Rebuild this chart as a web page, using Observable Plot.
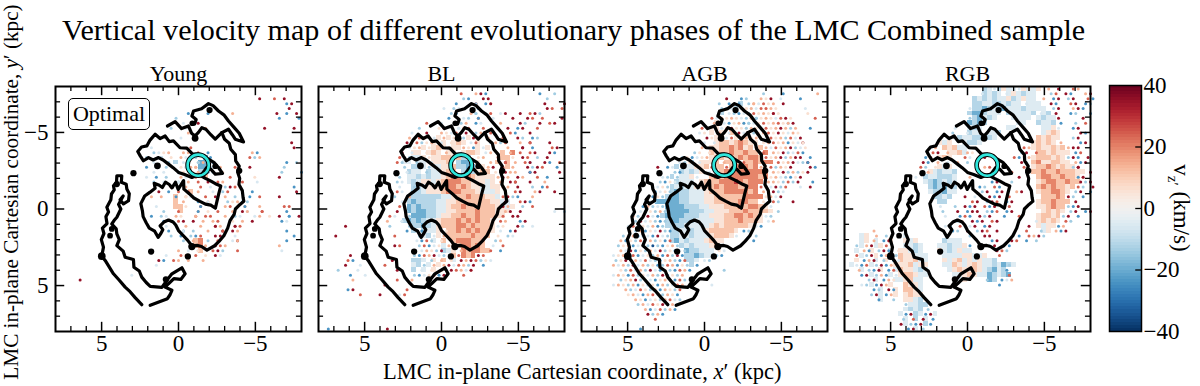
<!DOCTYPE html>
<html><head><meta charset="utf-8">
<script src="https://cdn.jsdelivr.net/npm/d3@7"></script>
<script src="https://cdn.jsdelivr.net/npm/@observablehq/plot@0.6"></script>
<style>
html,body{margin:0;padding:0;background:#fff;overflow:hidden}
#w{position:relative;width:1200px;height:386px;font-family:"Liberation Serif",serif;color:#000}
#w svg{position:absolute;top:0;background:transparent}
.t{position:absolute;white-space:nowrap;line-height:1}
</style></head><body>
<div id="w">
<div class="t" style="left:62px;top:15px;font-size:30.1px">Vertical velocity map of different evolutionary phases of the LMC Combined sample</div>
<div class="t" style="left:383px;top:361px;font-size:22.5px">LMC in-plane Cartesian coordinate, <i>x</i>′ (kpc)</div>
<div class="t" style="left:12px;top:192px;font-size:21.2px;transform:translate(-50%,-50%) rotate(-90deg)">LMC in-plane Cartesian coordinate, <i>y</i>′ (kpc)</div>
<div class="t" style="left:68px;top:98px;width:80px;height:30px;border:1.5px solid #000;border-radius:5px;background:#fff;font-size:22px;line-height:30px;text-align:center;z-index:3">Optimal</div>
<div class="t" style="left:1179px;top:208px;font-size:23px;transform:translate(-50%,-50%) rotate(90deg);z-index:3">v<sub style="font-size:15px">z′</sub> (km/s)</div>
</div>
<script>
const panels = ["Young","BL","AGB","RGB"];
const majorTicks = [-5,0,5];
const minorTicks = [-7,-6,-4,-3,-2,-1,1,2,3,4,6,7];
const barTicks = [-40,-20,0,20,40];
const levels = {a:-35,b:-24,c:-14,d:-6,e:6,f:14,g:24,h:35};
const denseShade = 0.82;

const youngRows = ["","",
"41:h..g.h","46:bh","47:h","26:b...b 35:f 44:h.b 48:h","24:c 45:b 49:b","25:d 28:h","23:c..d 30:f 42:h 48:h","26:f","25:d","47:h",
"19:d 27:g 48:h","19:cd 21:ef..f 26:f.g 30:b 39:f 40:b","18:c..b 21:d.e.fd...f 27:gc 30:Bb 39:g.f 40:c","19:d 22:c.Cd..ef.g 28:cB 30:Bb 46:b.c",
"18:b 20:c 22:c..ec.f 26:d 27:ff 29:BBc 33:f 36:g 39:h 46:c","19:d 21:d..b 25:e..f 29:Cbc 33:e 45:c 49:b","18:d 20:b 22:c...d 25:f..g 29:eF 35:g 40:e 45:h",
"19:c 21:d..c 24:d.f 28:g.h..f 32:g 37:g 40:d","23:h 26:f..g.d..c.g 35:h 37:f 48:b","20:h 22:b 24:g 26:gFf..d.c...d 34:g 37:c.b 48:h",
"19:f.f..b.f 24:F.e 27:d..g.h 34:f.c..b.g 45:h","24:Ff..b.f 30:d...c.f 35:e 37:bc","20:d 24:FFe..g 29:b 32:h 34:fg..f 38:b 41:f 46:gg",
"21:c 24:gF..f 28:b 30:e.g..f.hd..g 38:f 41:g 46:b","19:b 21:cd 24:fe..g 28:f.gg..f.cd...f.e 40:d 45:h.c 47:b.h","21:b..d 24:gh 27:h.f 31:fg..e.f.h 45:b 46:d",
"22:d 26:f 29:f..g 32:hf..g 36:hg","22:b..b 25:d 27:c 30:f..h 33:g.hf 46:b","23:c 25:b 27:cb 29:g..h 33:h 36:d 48:b","25:c 27:fFG 30:c.g..dh 36:f 46:b",
"28:FG 30:f.hg 34:f 45:f","24:f 26:d.f 28:eF 31:gh 33:c..g 45:d","22:d 25:gf 28:g 30:e.hd","20:h 21:b..f 23:g 26:f 29:f","20:d","","15:d","4:h"];

const blRows = ["",
"28:g..fh 33:b 44:b 47:c","29:cb..h 34:h 46:c","27:b..dh 31:c..f 33:bh 45:h 49:h","25:d.cd...b 31:c 46:hg 49:g","26:cb...c.d 30:fc..g.dh 40:h.gh 44:c",
"26:b..dc.g 32:b 35:d 39:h..hg 45:g 49:h","21:g 24:d..bc 29:f.bd...f 40:hc..h.g 47:h","20:c 24:eh..d 28:dfg 33:g..e 38:h.bh 44:g","18:d 21:h 24:fedgeh.cf.g 38:gb..h",
"18:f 20:gh 23:dEfEeEcEhd.f 37:g..hc.b 44:c","17:h.gc 21:efEdEeEFEdgE.cf 36:cg..f.h 42:g 46:h","18:defEeEFEfEEfebEdE 38:f..h 41:h.b 47:gh",
"16:h 18:dEEeEFEfEEdEFFE 33:df 37:FfGg..h 42:g 46:hb","16:g 18:cDDEeEEFFEFE 29:CC 32:ef 36:gFFe.hg 44:c.h","15:gcDDcDDdEE 25:EF 28:CBB 32:E.f..h 36:FgFf..c 41:gh..hb 48:g",
"17:c.CCDcDDE 26:EF 28:CCBB 32:EEfh 37:gFf..hc 44:hg..b","15:h 17:dCDDcCDD 25:EFF 29:CCC 32:EFFe.h 38:ff..h 42:bh 48:h","16:c 18:DDCDCDDE 26:FGG 29:FGFE 33:EEEfh 38:f.h 41:f..g 46:b",
"15:cd 18:DCDEEDE 25:FGGGFFEE 33:EDEf..h 38:hg 42:h..f","16:d..c 19:CCDEE 24:EFGGFGFEE 33:DDEE 37:gf 40:h..c.bg","15:gd 18:cCCD 22:EEE 25:FGGGFFFE 33:DDDE 37:f.gh..f 44:h 47:h",
"15:c..f 18:CCCCCCCDDEFFGFFFEED 37:gh 39:cb 43:f","16:d 18:CBCCCCDDEEFFFFFFFEEDD 37:h..gh 42:b","16:g 17:cBCBCCCDDEFFGFFFFFFEEDE 37:hf 41:c.g",
"15:h.c 18:BCBBCCDDEEFFFFGFFFEEE 37:fh 40:h 47:d 49:c","14:gd 18:cBBBCCDEEFFGFFGFFFEE 37:g.hh","13:f..c 16:dCBCBCDDEFFFGFGFGFFE 36:gf..b 41:h",
"5:h 14:c 18:cCCBCDEFFFGGFGFFFE 36:de..hc 43:d","17:b 19:CbCDDEeFFGFGFGFFE 36:d 38:bh","3:h 15:g 20:cDCdEfFFFFFGFFF 36:e 38:cd","19:dbgcDeFgFGGGFFF 35:cf",
"15:hg 20:cgbdeDfEFGGFGF 35:d 37:g","20:dfechCDEfGFGGFF 34:g.b","6:h 19:cbgfhdcdFgGFG 32:hg","5:gb 14:h 19:CCDcEfFeDhfhgde 32:c 34:d","5:h..d 13:g 19:DCcDfEfhdgfch 33:b",
"3:c 7:d 15:h 19:CdDeEfchgfdf 30:h","6:b..d 19:cbdegbh 29:g","6:f 15:g 17:cf","13:h","5:bh 17:g","8:g 12:h 16:dg","","","","","","","1:b 13:h"];

const agbRows = ["",
"36:c 40:b 47:f","29:h 32:bc 36:fe 38:h 40:d 44:b","27:c 29:bebCcf 34:fdgef 40:h","28:cbdCced 33:efdgef 37:g 39:e 45:d","27:dCdcbdc 33:cgefeg 38:he 45:e",
"26:gdfefedcdb 34:fcefedgh 42:e 47:g","26:fEdbefec 32:bcdegefgec 41:fh","24:g 26:eEdfheee 33:cfecgefhfcf 46:b","23:de 26:EfEdFhde 33:dcefgehedfe",
"25:heEFdgEff 33:Eefedgefcgdh","24:d 26:dEFFEFGF 34:EEefgefbedh 44:e","24:f 26:EEFFGFGEF 35:gFfdgefhcde","22:ce 25:eFEFFGFFGFF 36:gGfehcdg 44:b",
"20:cebdefEFFEFFGFGFG 35:GFgefhcfh 44:h 46:b","19:dceCdEEEFfFFFgFFGFGGgefhdch 45:b","15:h 17:bdCcDDEEFgFFgFGGGFGfegcfeh 46:hb","18:cbCDCDEd 27:EFGFGGGGGGGfehcfceh",
"16:dcCcDDEd 26:FGFGGGGGGGFGefdcbeh","15:cbedCDDD 24:EFFFGGGHGFGGGffecg 42:ch 46:b","14:cdecCDCDDEEFFGFGGGFFGGgfdh 40:cg 44:d 46:h",
"14:bdecCBCCDDDEFFFGGGGGFGfehcd","13:dbecCBBCCDDDEEFFFFFFGGGGefdh","12:cdcBBBBBCCDDDEEFFFFFGGFFedgc 42:h","12:bfcdcBBBBCCCDDEEEFFFGFGGFEd",
"11:dbecfcCBBBBCCCDDEEEFFFGFFFFEc","10:fcdhdbCBBBBCCCDDEEEFFGGFGFEdc","10:chdecbcCBBCCCDDDDEEFFFGFFFEdf","9:dgcedfbcCCCCDDDDDEFEFFFFFEdb",
"9:ecfbedhcbCCDDCDDEFFFFFEbc","8:cefbcdbhdcCCDDCDDDEFFFEd 35:c","7:fbecgdfcebgCBDCDDDEFEE 34:b","7:cefbdecacbefcCDCDDDEFe","7:fdhbecfdhcebdcBCCDDDed",
"6:defcgbdecfbgchbCCBCDDcb","6:cehcfdgdcbefcbgCCDdc","6:fdfchdfcebcgfbecCb","7:ecgdfchdbecbgfb 28:c","6:dfebgcedfchbecf","7:cefhcedbefcbgcd","6:dfecfbecebfcdgf 26:d",
"8:fcdgecfbfecg","9:efdbfgdcfeb","10:febdecfgdc","11:cfdgehbfc","12:fbdgcfb","13:hcfb","14:g","","11:b"];

const rgbRows = [
"28:CDdCEDDdEDDE 37:e 41:f.h 46:gf","27:dCDCDdDEDCDD 41:cg.hb..fh","26:CDCDCDDECDEDD 40:f.bh.ch..gb","26:CCDDCCDCDDdDDD 41:hb..gh.bc","25:dCCBCDCBDDDCDDDD 42:ch..f 47:hb",
"25:CBBCDDD 33:CDDDDC 39:dDCh..bc 49:b","25:cCBDCD 34:DDDD 39:DCDDh 48:h","25:BCBC 35:DD 39:CDDCb..c 48:g","22:d 25:DCD 33:DD 40:DDEd 46:bh","21:c 24:dCDD 29:DDC 40:DEFE 47:hb",
"19:e 23:CDDCCC 29:CD 39:FEFEE 46:ch","19:EDE 24:DCCD 38:EFEFEf 47:bh","17:df 20:FEFDDd 36:gf 38:EFEEFEFfh 47:h","17:gh.fEEFD 24:fe 35:ch.gFFEFEEE 46:bg","16:bg.EFE 24:gd 28:h 34:gb.f 38:EFFFEFEc 46:hb.h",
"15:hb.f 20:d 22:f 24:c 35:hc 38:FGEEFFEEf 47:bh","15:gc.e 19:EDE 28:fg 36:g 38:EFFGFEFEEh 46:ch","15:hfEDCD 21:DC 33:g 36:c 38:FFGFFGFFFEE 49:h","14:d 16:CDDCCCD 25:f 35:h 39:FGGFFGFFEf 47:bh","16:DCBCDCD 29:bh 33:c 39:EFGGFFGFFch 47:h",
"17:CBCBDC 27:bc.gb 33:f 39:FGFGFFEFgc.h","17:DCCBDD 27:ch.bh..f 35:h 39:EFFGGFEch.b","18:CCDC 24:h 26:d 29:hbh.g 40:FFFGFhc.b","19:CC 25:gh.chg.bh 39:EFFGFFFh","19:d 22:c 24:hbh.gbh..c 33:g 39:EEFGFFcb 47:h",
"19:c 22:h 24:bhh.cbg.b 33:h 40:EFEFEch.bh","20:d 23:bgb.hch..b 35:g 39:EFFEFch.b","22:ce.hbh.gh 38:dEFEFEgc","20:db.gcdh.bh 37:h 39:EDEEbf","5:f 21:bc.h 26:chg.h 36:g 39:cDEfbh",
"3:DE.f.c 12:D 25:c 28:hh 35:b 37:gfhc","3:DEfDbhE 12:EDE 20:CDDD 29:bh 33:hg.b 38:c","2:cDfhDEg 12:DDCD 19:DDCDDE 25:b 29:ch..b","2:DfbEchbDe 11:EEDCD 19:EDCDEDD 30:hgc","2:gDchEbfDc 11:FEEDDD 20:DDDDEEDDE 31:g",
"2:EbfhDcEbd 11:FEEFDD 20:EDEFDEDEDDC","1:DdbgDchbfE 11:EEFDEE 20:DDFEDEFEDDCDBCD 33:c","2:fDcbhEbgD 11:FEEDCD 21:DEFEEFEDCBDC 32:b","3:bhDcfbDd 11:EFFEDD 22:DDEFEDDBCDCB 33:g","4:chDbfeD 11:DEFDD 23:DE 28:cBCb 32:df",
"3:dcDbhfE 12:FEED 31:b","5:bcDhbE 12:FFED","5:chDbfE 12:EFEE","6:bD 9:c 12:EEDC","12:cDDCC","12:DCDCc","11:DbhCDbhD","11:cDgChDb","11:hDcbhCb","12:bhDc"];

const contourOuter = [[2.39,6.25],[2.82,5.79],[3.15,5.4],[3.47,5.1],[3.85,4.65],[4.23,4.23],[4.5,3.8],[4.77,3.36],[4.99,3.08],[4.88,2.49],[5.02,2.0],[4.85,1.6],[4.95,1.25],[4.65,.95],[4.72,.5],[4.55,.2],[4.66,-.11],[4.4,-.6],[4.36,-.98],[4.18,-1.25],[4.23,-1.52],[4.03,-1.75],[4.01,-2.17],[3.69,-2.17],[3.72,-1.74],[3.4,-1.62],[3.36,-1.3],[3.2,-1],[3.25,-.54],[3.58,-.33],[3.8,-.6],[3.6,-.85],[3.9,-.3],[3.75,0],[4.01,.54],[4.15,.7],[4.34,.98],[4.05,1.3],[4.01,1.63],[3.85,2],[4.01,2.39],[3.6,2.75],[3.47,3.15],[2.93,3.3],[2.9,3.8],[2.55,4.05],[2.39,4.45],[2.1,4.8],[1.84,5.05],[1.08,5.12],[.76,4.66],[.43,4.23],[-.22,3.84],[-.43,4.23],[-.15,4.6],[.3,4.55],[.65,4.88],[.87,5.1],[.43,5.31],[.55,5.6],[.72,5.86],[1.84,6.29]];
const contourLoop = [[2.65,-3.75],[2.4,-4.05],[2.06,-4.12],[1.85,-4.5],[1.52,-4.88],[1.2,-4.6],[.87,-4.77],[.6,-4.4],[.33,-4.45],[-.1,-4.0],[-.54,-3.97],[-.9,-3.6],[-1.3,-3.58],[-1.65,-3.45],[-1.95,-3.25],[-2.3,-3.05],[-2.6,-2.71],[-2.86,-2.32],[-2.39,-2.28],[-2.1,-2.6],[-1.84,-2.71],[-1.52,-2.28],[-1.2,-2.2],[-.87,-2.06],[-.4,-2.25],[0,-2.39],[.35,-2.7],[.65,-2.93],[1.0,-3.2],[1.3,-3.36],[1.65,-3.2],[1.95,-3.36],[2.28,-3.15],[2.49,-3.47],[2.65,-3.75]];
const contourTop = [[.72,-5.42],[.22,-5.7],[-.2,-5.25],[-.65,-5.42],[-.85,-4.95],[-1.08,-4.77],[-1.3,-5.0],[-1.52,-5.31],[-1.78,-5.21],[-2.1,-4.85],[-2.39,-4.56],[-2.82,-4.99],[-3.25,-5.21],[-3.5,-4.85],[-3.69,-4.56],[-4.23,-4.38],[-3.95,-4.95],[-3.6,-5.35],[-3.25,-5.75],[-2.95,-6.15],[-2.6,-6.4],[-2.25,-6.75],[-1.95,-6.88],[-1.5,-6.55],[-.98,-6.4],[-.87,-6.07],[-1.15,-5.85],[-1.05,-5.55]];
const contourMain = [[-2.82,-4.99],[-3.0,-4.55],[-3.3,-4.3],[-3.4,-3.9],[-3.7,-3.55],[-3.72,-3.15],[-3.95,-2.8],[-3.85,-2.4],[-3.98,-2],[-3.93,-1.6],[-4.15,-1.2],[-4.2,-.76],[-4.25,-.5],[-4.0,-.3],[-3.7,0],[-3.62,.35],[-3.35,.76],[-3.2,1.25],[-2.95,1.75],[-2.65,2.1],[-2.35,2.4],[-1.85,2.68],[-1.5,2.45],[-1.25,2.38],[-.87,2.4],[-.6,2.05],[-.35,1.78],[0,1.41],[.18,1.05],[.35,.85],[.65,.72],[.95,.85],[1.2,1.1],[1.02,1.35],[1.15,1.6],[1.32,1.85],[1.55,1.45],[1.9,1.25],[2.1,.9],[2.3,.5],[2.35,.1],[2.45,-.35],[2.2,-.85],[1.85,-1.1],[1.52,-1.35],[1.58,-1.68],[1.25,-1.55],[1.05,-1.4],[.85,-1.75],[.6,-1.6],[.42,-1.38],[.2,-1.75],[.02,-1.28],[-.33,-1.85],[-.35,-1.3],[-.7,-1],[-1,-.72],[-1.4,-.5],[-1.75,-.32],[-2.1,-.25],[-2.4,-.05],[-2.5,-.5],[-2.62,-1],[-2.75,-1.5],[-2.4,-1.65],[-2.05,-1.85],[-1.75,-2],[-1.5,-2.15]];
const contours = [contourOuter,contourLoop,contourTop,contourMain];
const blobs = [[2.93,-2.34,3],[1.37,-2.82,3.5],[-2.02,-6.46,3],[1.78,2.78,3],[-.61,3.1,3],[-.87,2.45,4],[-3.95,-2.49,3],[4.99,3.08,4.5],[4.45,1.74,2.5],[4.34,1.3,2.5],[-1.08,-4.62,3.5],[4.01,-1.63,3],[.82,4.6,3],[-2.39,-2.8,2.5],[-.9,-5.6,2.5]];
const ring = [[-1.28,-2.86]];
const rowsByPanel = [youngRows,blRows,agbRows,rgbRows];

const step = 0.32;
const cells = [], stars = [];
rowsByPanel.forEach((rows,p)=>rows.forEach((row,r)=>{
  if(!row) return;
  row.split(" ").forEach(seg=>{
    const [c0,chars] = seg.split(":");
    [...chars].forEach((k,i)=>{
      if(k===".") return;
      const lo = k.toLowerCase(), c = +c0+i;
      if(k===lo) stars.push({panel:panels[p], v:levels[lo], x:8-step*(c+.5+(r%2)*.5), y:-8+step*(r+.5)});
      else cells.push({panel:panels[p], v:levels[lo]*denseShade, x1:8-step*c, x2:8-step*(c+1), y1:-8+step*r, y2:-8+step*(r+1)});
    });
  });
}));

const colorScale = {type:"linear", domain:[-40,40], interpolate:t=>d3.interpolateRdBu(1-t)};
const font = {fontFamily:"Liberation Serif", fontSize:"22px", color:"#000", background:"transparent"};
const tick = (vals,len,sw)=>[
  Plot.ruleX(vals,{x:d=>d,y1:-8,y2:-8+len,strokeWidth:sw}),
  Plot.ruleX(vals,{x:d=>d,y1:8,y2:8-len,strokeWidth:sw}),
  Plot.ruleY(vals,{y:d=>d,x1:8,x2:8-len,strokeWidth:sw}),
  Plot.ruleY(vals,{y:d=>d,x1:-8,x2:-8+len,strokeWidth:sw})
];

const main = Plot.plot({
  width:1200,height:386,marginLeft:54,marginRight:110,marginTop:86,marginBottom:55,
  style:font,
  x:{domain:[8,-8],axis:null},y:{domain:[8,-8],axis:null},
  fx:{domain:panels,axis:null,paddingInner:.0653,paddingOuter:0,label:null},
  color:colorScale,
  marks:[
    Plot.rect(cells,{fx:"panel",x1:"x1",x2:"x2",y1:"y1",y2:"y2",fill:"v",shapeRendering:"crispEdges"}),
    Plot.dot(stars,{fx:"panel",x:"x",y:"y",fill:"v",r:1.5}),
    ...contours.map(c=>Plot.line(c,{x:d=>d[0],y:d=>d[1],strokeWidth:3.2,stroke:"#000",strokeLinejoin:"round",strokeLinecap:"round"})),
    Plot.dot(blobs,{x:d=>d[0],y:d=>d[1],r:d=>d[2],fill:"#000",stroke:null}),
    Plot.dot(ring,{x:d=>d[0],y:d=>d[1],r:10.6,stroke:"#000",strokeWidth:4.6,fill:null}),
    Plot.dot(ring,{x:d=>d[0],y:d=>d[1],r:10.6,stroke:"#2fe6dc",strokeWidth:2.6,fill:null}),
    ...tick(minorTicks,.33,1.3),...tick(majorTicks,.6,1.5),
    Plot.frame({stroke:"#000",strokeWidth:2}),
    Plot.axisX({ticks:majorTicks,tickSize:0,tickPadding:3,label:null,fontSize:23}),
    Plot.axisY({ticks:majorTicks,tickSize:0,tickPadding:7,label:null,fontSize:23}),
    Plot.axisFx({anchor:"top",tickSize:0,tickPadding:6,label:null,fontSize:22})
  ]
});
main.style.left="0";
document.getElementById("w").append(main);

const barLevels = d3.range(-40,40,1);
const bar = Plot.plot({
  width:100,height:386,marginLeft:9,marginRight:59,marginTop:85,marginBottom:55,
  style:font,
  x:{domain:[0,1],axis:null},y:{domain:[-40,40],axis:null},color:colorScale,
  marks:[
    Plot.rect(barLevels,{x1:0,x2:1,y1:d=>d,y2:d=>d+1,fill:d=>d+.5,shapeRendering:"crispEdges"}),
    Plot.ruleY([-20,0,20],{y:d=>d,x1:.82,x2:1,strokeWidth:1.3}),
    Plot.frame({stroke:"#000",strokeWidth:1.5}),
    Plot.axisY({anchor:"right",ticks:barTicks,tickSize:0,tickPadding:2,label:null,fontSize:23,tickFormat:d=>d<0?"−"+(-d):""+d})
  ]
});
bar.style.left="1100px";
document.getElementById("w").append(bar);
</script>
</body></html>
